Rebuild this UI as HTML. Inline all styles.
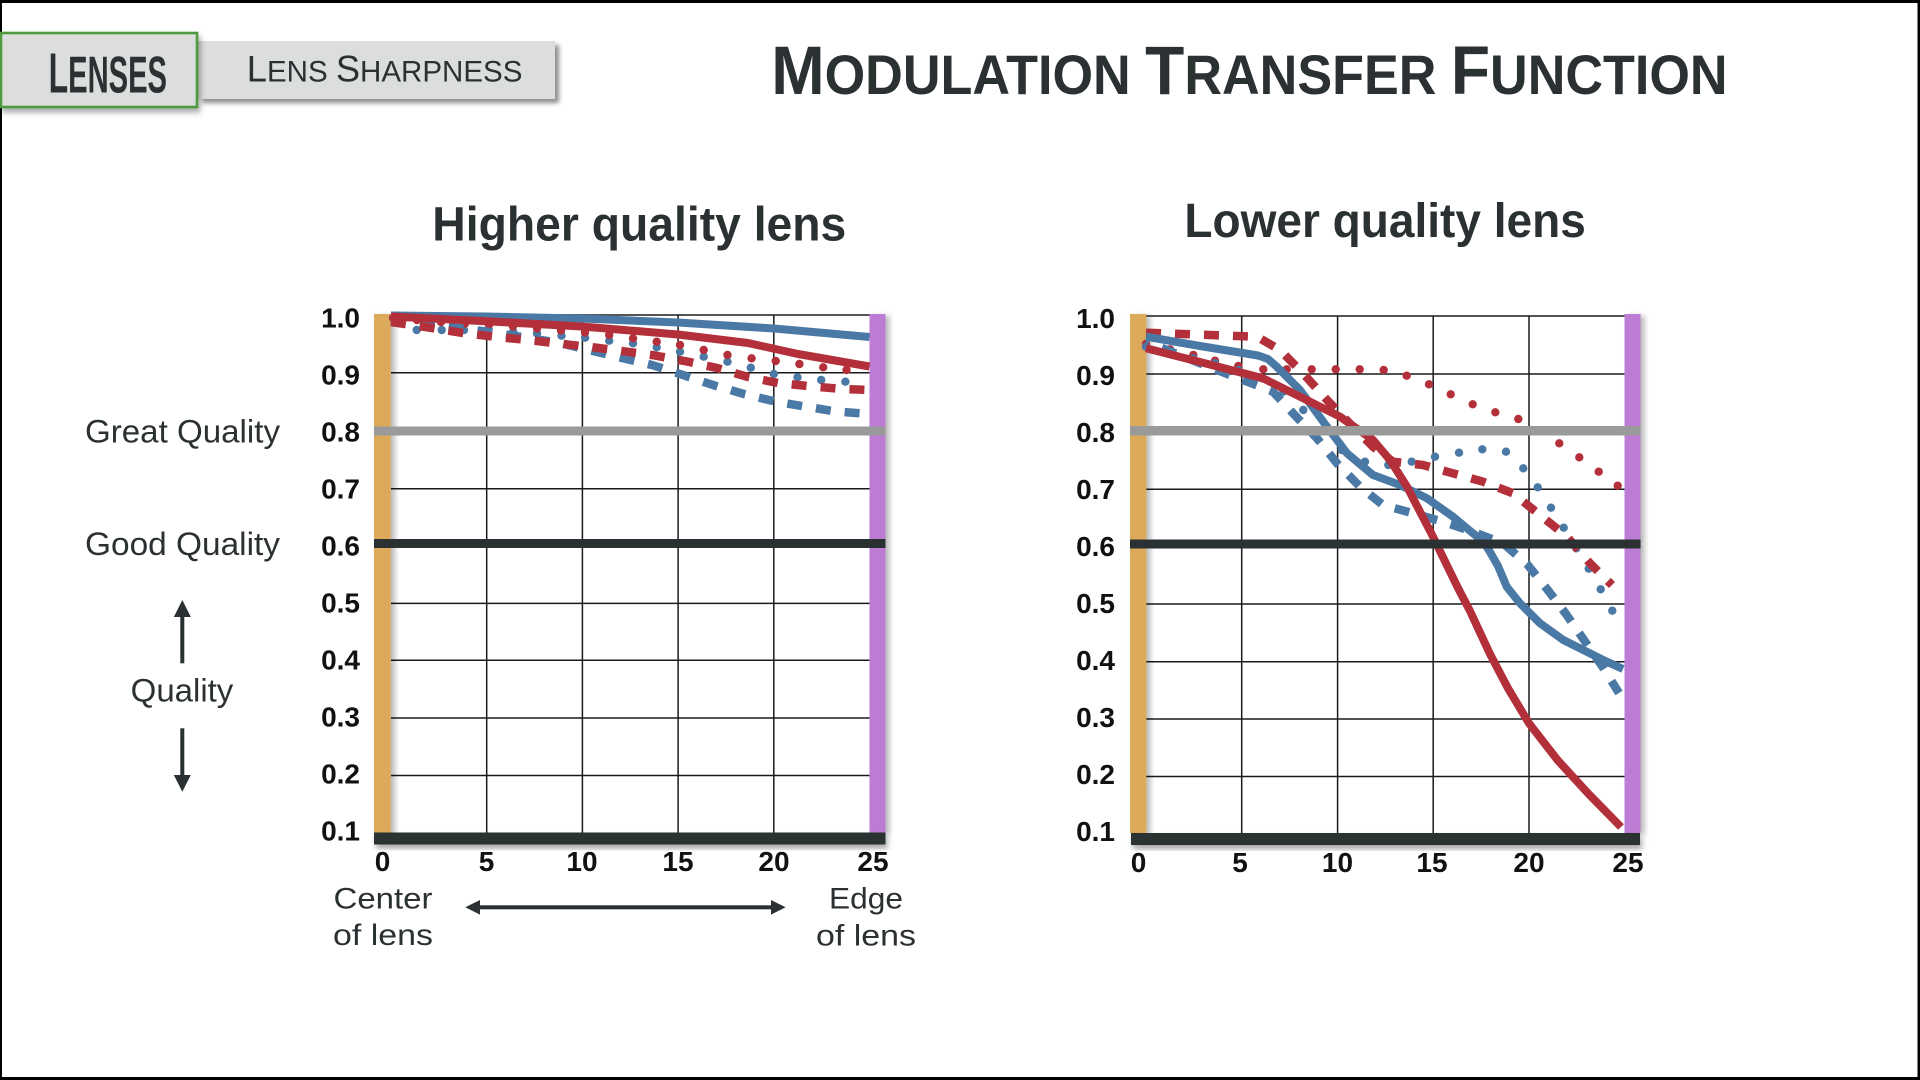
<!DOCTYPE html>
<html><head><meta charset="utf-8"><style>
html,body{margin:0;padding:0;background:#fff;}
svg{display:block;}
text{font-family:"Liberation Sans",Arial,sans-serif;}
</style></head><body>
<svg width="1920" height="1080" viewBox="0 0 1920 1080" xmlns="http://www.w3.org/2000/svg">
<defs>
<filter id="sh" x="-50%" y="-5%" width="200%" height="110%"><feDropShadow dx="4" dy="2" stdDeviation="3" flood-color="#000" flood-opacity="0.28"/></filter>
<filter id="sh2" x="-10%" y="-30%" width="120%" height="180%"><feDropShadow dx="2" dy="4" stdDeviation="3" flood-color="#000" flood-opacity="0.35"/></filter>
<filter id="sh3" x="-10%" y="-30%" width="120%" height="180%"><feDropShadow dx="4" dy="4" stdDeviation="2.5" flood-color="#000" flood-opacity="0.45"/></filter>
</defs>
<rect x="0" y="0" width="1920" height="1080" fill="#fff"/>
<!-- frame -->
<rect x="0" y="0" width="1920" height="3" fill="#000"/>
<rect x="0" y="1077" width="1920" height="3" fill="#000"/>
<rect x="0" y="0" width="2" height="1080" fill="#000"/>
<rect x="1917.5" y="0" width="2.5" height="1080" fill="#000"/>

<!-- tabs -->
<rect x="198" y="41" width="357" height="58" fill="#dcdddd" filter="url(#sh3)"/>
<rect x="1" y="33" width="196" height="74" fill="#dcdedd" stroke="#4f9a3d" stroke-width="2.6" filter="url(#sh2)"/>
<text x="48.6" y="92.3" textLength="118.4" lengthAdjust="spacingAndGlyphs" font-weight="bold" fill="#2b3133"><tspan font-size="57">L</tspan><tspan font-size="52">ENSES</tspan></text>
<text x="246.8" y="81.7" textLength="275.6" lengthAdjust="spacingAndGlyphs" fill="#2b3133"><tspan font-size="36.6">L</tspan><tspan font-size="29.8">ENS </tspan><tspan font-size="36.6">S</tspan><tspan font-size="29.8">HARPNESS</tspan></text>

<!-- main title -->
<text x="771.2" y="94" textLength="956.4" lengthAdjust="spacingAndGlyphs" font-weight="bold" fill="#2b3133"><tspan font-size="68.6">M</tspan><tspan font-size="55.8">ODULATION </tspan><tspan font-size="68.6">T</tspan><tspan font-size="55.8">RANSFER </tspan><tspan font-size="68.6">F</tspan><tspan font-size="55.8">UNCTION</tspan></text>

<!-- chart titles -->
<text x="432.3" y="240.5" textLength="414" lengthAdjust="spacingAndGlyphs" font-size="48" font-weight="bold" fill="#2b3133">Higher quality lens</text>
<text x="1184.4" y="237" textLength="401.4" lengthAdjust="spacingAndGlyphs" font-size="48" font-weight="bold" fill="#2b3133">Lower quality lens</text>

<!-- left side labels -->
<g fill="#2b3133" font-size="32">
<text x="182.5" y="442.7" text-anchor="middle" textLength="195" lengthAdjust="spacingAndGlyphs">Great Quality</text>
<text x="182.5" y="555" text-anchor="middle" textLength="195" lengthAdjust="spacingAndGlyphs">Good Quality</text>
<text x="182" y="701.7" text-anchor="middle" textLength="102.6" lengthAdjust="spacingAndGlyphs">Quality</text>
</g>
<g fill="#2b3133" stroke="none">
<rect x="180.3" y="614" width="4" height="49.3"/>
<polygon points="182.3,600 173.8,617 190.8,617"/>
<rect x="180.3" y="728.3" width="4" height="49"/>
<polygon points="182.3,791.7 173.8,775 190.8,775"/>
</g>

<!-- bottom labels -->
<g fill="#2b3133" font-size="30">
<text x="383" y="908.3" text-anchor="middle" textLength="99" lengthAdjust="spacingAndGlyphs">Center</text>
<text x="383" y="945" text-anchor="middle" textLength="100" lengthAdjust="spacingAndGlyphs">of lens</text>
<text x="866" y="908.3" text-anchor="middle" textLength="74" lengthAdjust="spacingAndGlyphs">Edge</text>
<text x="866" y="945.5" text-anchor="middle" textLength="100" lengthAdjust="spacingAndGlyphs">of lens</text>
</g>
<g fill="#2b3133">
<rect x="476" y="905.3" width="298" height="4"/>
<polygon points="465.3,907.3 480,900 480,914.6"/>
<polygon points="785.6,907.3 771,900 771,914.6"/>
</g>

<!-- ============ LEFT CHART ============ -->
<g stroke="#1a1a1a" stroke-width="1.5">
<line x1="391" y1="315" x2="869.5" y2="315" stroke="#555" stroke-width="2"/>
<line x1="391" y1="372.7" x2="869.5" y2="372.7"/>
<line x1="391" y1="488.7" x2="869.5" y2="488.7"/>
<line x1="391" y1="603.4" x2="869.5" y2="603.4"/>
<line x1="391" y1="660.3" x2="869.5" y2="660.3"/>
<line x1="391" y1="718" x2="869.5" y2="718"/>
<line x1="391" y1="775.5" x2="869.5" y2="775.5"/>
<line x1="486.7" y1="315" x2="486.7" y2="833"/>
<line x1="582.4" y1="315" x2="582.4" y2="833"/>
<line x1="678.1" y1="315" x2="678.1" y2="833"/>
<line x1="773.8" y1="315" x2="773.8" y2="833"/>
</g>
<rect x="374" y="314" width="16.8" height="519" fill="#dcaa5a" filter="url(#sh)"/>
<rect x="869.5" y="314" width="16" height="519" fill="#bc7bd4" filter="url(#sh)"/>

<!-- left curves -->
<g fill="#4b79a6">
<circle cx="416.7" cy="330" r="4.2"/><circle cx="441.7" cy="330" r="4.2"/><circle cx="464" cy="330" r="4.2"/><circle cx="488.3" cy="330" r="4.2"/><circle cx="513.3" cy="332" r="4.2"/><circle cx="537" cy="333.5" r="4.2"/><circle cx="561.5" cy="335.7" r="4.2"/><circle cx="585.1" cy="337.7" r="4.2"/><circle cx="609.2" cy="340.7" r="4.2"/><circle cx="633" cy="343.3" r="4.2"/><circle cx="656.7" cy="347.3" r="4.2"/><circle cx="680" cy="351.7" r="4.2"/><circle cx="703.7" cy="356.7" r="4.2"/><circle cx="727.5" cy="361.7" r="4.2"/><circle cx="750.8" cy="367.7" r="4.2"/><circle cx="773.8" cy="374" r="4.2"/><circle cx="797.5" cy="377.3" r="4.2"/><circle cx="821.2" cy="380" r="4.2"/><circle cx="845.4" cy="381.7" r="4.2"/>
</g>
<g fill="#b3303a">
<circle cx="393" cy="318" r="4.2"/><circle cx="417" cy="320" r="4.2"/><circle cx="441" cy="322" r="4.2"/><circle cx="465" cy="323.5" r="4.2"/><circle cx="489" cy="325" r="4.2"/><circle cx="513" cy="326.5" r="4.2"/><circle cx="537" cy="328.5" r="4.2"/><circle cx="561" cy="330.5" r="4.2"/><circle cx="585" cy="332.5" r="4.2"/><circle cx="609.2" cy="335" r="4.2"/><circle cx="633" cy="338.3" r="4.2"/><circle cx="656.7" cy="341.7" r="4.2"/><circle cx="680" cy="345" r="4.2"/><circle cx="703.7" cy="350" r="4.2"/><circle cx="727.5" cy="355" r="4.2"/><circle cx="751.6" cy="358.3" r="4.2"/><circle cx="775.7" cy="361" r="4.2"/><circle cx="799.4" cy="364" r="4.2"/><circle cx="823.2" cy="367.3" r="4.2"/><circle cx="846.5" cy="370" r="4.2"/>
</g>
<g fill="none" stroke-linejoin="round">
<path d="M391,320 L490,332 L560,343 L622,358 L652,365 L683,375 L713,385 L744,394 L775,401.5 L805,406.5 L836,411.5 L869.5,414" stroke="#4b79a6" stroke-width="8.5" stroke-dasharray="15 14"/>
<path d="M391,322 L432,328 L463,333 L497,337 L528,340 L558,343.5 L591,347 L652,355 L687,361.5 L717,368 L748,377 L778,383 L813,386.5 L843,389 L869.5,390" stroke="#b3303a" stroke-width="8.5" stroke-dasharray="15 14"/>
<path d="M391,315.5 L486,316.5 L582,318.5 L678,322.5 L774,328.5 L869.5,337" stroke="#4b79a6" stroke-width="8"/>
<path d="M391,316.5 L491,321.5 L582,326.5 L678,334.5 L748,343 L798,354 L869.5,366.5" stroke="#b3303a" stroke-width="8"/>
</g>
<rect x="374" y="426.5" width="511.5" height="9" fill="#9a9a9a"/>
<rect x="374" y="539" width="511.5" height="9" fill="#2b3133"/>
<rect x="374" y="832.5" width="511.5" height="12" fill="#2b3133" filter="url(#sh2)"/>

<g font-size="28" font-weight="bold" fill="#111" text-anchor="end">
<text x="360" y="327.3">1.0</text>
<text x="360" y="384.3">0.9</text>
<text x="360" y="441.3">0.8</text>
<text x="360" y="498.3">0.7</text>
<text x="360" y="555.3">0.6</text>
<text x="360" y="612.3">0.5</text>
<text x="360" y="669.3">0.4</text>
<text x="360" y="726.3">0.3</text>
<text x="360" y="783.3">0.2</text>
<text x="360" y="840.3">0.1</text>
</g>
<g font-size="28" font-weight="bold" fill="#111" text-anchor="middle">
<text x="382.5" y="871">0</text>
<text x="486.5" y="871">5</text>
<text x="582" y="871">10</text>
<text x="678" y="871">15</text>
<text x="774" y="871">20</text>
<text x="873" y="871">25</text>
</g>

<!-- ============ RIGHT CHART ============ -->
<g stroke="#1a1a1a" stroke-width="1.5">
<line x1="1146" y1="316" x2="1624.5" y2="316" stroke="#555" stroke-width="2"/>
<line x1="1146" y1="374" x2="1624.5" y2="374"/>
<line x1="1146" y1="489.3" x2="1624.5" y2="489.3"/>
<line x1="1146" y1="604" x2="1624.5" y2="604"/>
<line x1="1146" y1="661.7" x2="1624.5" y2="661.7"/>
<line x1="1146" y1="719" x2="1624.5" y2="719"/>
<line x1="1146" y1="776.5" x2="1624.5" y2="776.5"/>
<line x1="1241.7" y1="316" x2="1241.7" y2="833"/>
<line x1="1337.6" y1="316" x2="1337.6" y2="833"/>
<line x1="1433.2" y1="316" x2="1433.2" y2="833"/>
<line x1="1529" y1="316" x2="1529" y2="833"/>
</g>
<rect x="1130" y="314" width="16.3" height="519" fill="#dcaa5a" filter="url(#sh)"/>
<rect x="1624.5" y="314" width="16" height="519" fill="#bc7bd4" filter="url(#sh)"/>

<g fill="#b3303a">
<circle cx="1146" cy="344" r="4.2"/><circle cx="1170" cy="349.3" r="4.2"/><circle cx="1193.3" cy="355" r="4.2"/><circle cx="1215" cy="360.7" r="4.2"/><circle cx="1238.3" cy="366" r="4.2"/><circle cx="1263.3" cy="369.3" r="4.2"/><circle cx="1286.7" cy="369.3" r="4.2"/><circle cx="1311.7" cy="369.3" r="4.2"/><circle cx="1335.7" cy="369.3" r="4.2"/><circle cx="1359.7" cy="369.3" r="4.2"/><circle cx="1383.7" cy="370" r="4.2"/><circle cx="1406.7" cy="375.7" r="4.2"/><circle cx="1429" cy="384.3" r="4.2"/><circle cx="1450.7" cy="394.3" r="4.2"/><circle cx="1472.7" cy="404.3" r="4.2"/><circle cx="1495.3" cy="412.3" r="4.2"/><circle cx="1518.3" cy="419" r="4.2"/><circle cx="1539" cy="431" r="4.2"/><circle cx="1559.3" cy="443.3" r="4.2"/><circle cx="1579.3" cy="457.3" r="4.2"/><circle cx="1598.7" cy="471.7" r="4.2"/><circle cx="1617.7" cy="485.7" r="4.2"/>
</g>
<g fill="#4b79a6">
<circle cx="1146" cy="346.7" r="4.2"/><circle cx="1170" cy="353.3" r="4.2"/><circle cx="1193.3" cy="358.3" r="4.2"/><circle cx="1215" cy="363.3" r="4.2"/><circle cx="1238.3" cy="370" r="4.2"/><circle cx="1261.7" cy="378.3" r="4.2"/><circle cx="1283.3" cy="391.7" r="4.2"/><circle cx="1303.3" cy="410" r="4.2"/><circle cx="1321.7" cy="430" r="4.2"/><circle cx="1341.7" cy="450" r="4.2"/><circle cx="1365" cy="461.7" r="4.2"/><circle cx="1388.3" cy="465" r="4.2"/><circle cx="1411.7" cy="461.7" r="4.2"/><circle cx="1435" cy="456.7" r="4.2"/><circle cx="1459" cy="452.7" r="4.2"/><circle cx="1482.3" cy="449.3" r="4.2"/><circle cx="1506" cy="451.7" r="4.2"/><circle cx="1523.3" cy="468.3" r="4.2"/><circle cx="1537.7" cy="487.3" r="4.2"/><circle cx="1551" cy="507.7" r="4.2"/><circle cx="1563.7" cy="527.7" r="4.2"/><circle cx="1576.3" cy="548.3" r="4.2"/><circle cx="1588.7" cy="568.7" r="4.2"/><circle cx="1600.7" cy="589.3" r="4.2"/><circle cx="1612.3" cy="610.7" r="4.2"/>
</g>
<g fill="none" stroke-linejoin="round">
<path d="M1146,341.7 L1217,370 L1243,380 L1273,391.7 L1293,413.3 L1317,438.3 L1337,463.3 L1360,486.7 L1383,505 L1413,513.3 L1443,521.7 L1477,533.3 L1503,543.3 L1527,564 L1547,589 L1566,614 L1584,640 L1603,667.5 L1619,693" stroke="#4b79a6" stroke-width="8.5" stroke-dasharray="15 14" stroke-dashoffset="12"/>
<path d="M1146,332.7 L1257,336.7 L1280,350 L1303,373.3 L1327,400 L1353,426.7 L1373,446.7 L1393,461.7 L1423,465 L1453,473.3 L1483,481.7 L1513,493.3 L1540,515 L1567,536.7 L1590,563.3 L1612,585" stroke="#b3303a" stroke-width="8.5" stroke-dasharray="15 14"/>
<path d="M1146,336.7 L1200,346 L1258,355.5 L1268,359 L1276,366 L1300,390 L1327,426.7 L1347,453.3 L1373,475 L1400,485 L1427,498.3 L1453,516.7 L1473,533.3 L1483,541 L1490,552 L1498,566 L1506.7,586.7 L1520,603.3 L1540,623.3 L1563.3,640 L1583.3,650 L1606.7,661.7 L1623,669" stroke="#4b79a6" stroke-width="8"/>
<path d="M1146,348.3 L1200,362 L1263,378.3 L1300,396.7 L1340,416.7 L1373,440 L1390,460 L1407,486.7 L1433,536.7 L1458,588 L1470,611 L1490,654 L1508,688.3 L1529,723.3 L1557.5,760 L1588,793.3 L1621,827" stroke="#b3303a" stroke-width="8"/>
</g>
<rect x="1130" y="426" width="510.6" height="9.5" fill="#9a9a9a"/>
<rect x="1130" y="539.5" width="510.6" height="9" fill="#2b3133"/>
<rect x="1131" y="833" width="509" height="12" fill="#2b3133" filter="url(#sh2)"/>

<g font-size="28" font-weight="bold" fill="#111" text-anchor="end">
<text x="1115" y="328">1.0</text>
<text x="1115" y="385">0.9</text>
<text x="1115" y="442">0.8</text>
<text x="1115" y="499">0.7</text>
<text x="1115" y="556">0.6</text>
<text x="1115" y="613">0.5</text>
<text x="1115" y="670">0.4</text>
<text x="1115" y="727">0.3</text>
<text x="1115" y="784">0.2</text>
<text x="1115" y="841">0.1</text>
</g>
<g font-size="28" font-weight="bold" fill="#111" text-anchor="middle">
<text x="1138.5" y="872">0</text>
<text x="1240" y="872">5</text>
<text x="1337.5" y="872">10</text>
<text x="1432" y="872">15</text>
<text x="1529" y="872">20</text>
<text x="1628" y="872">25</text>
</g>
</svg>
</body></html>
